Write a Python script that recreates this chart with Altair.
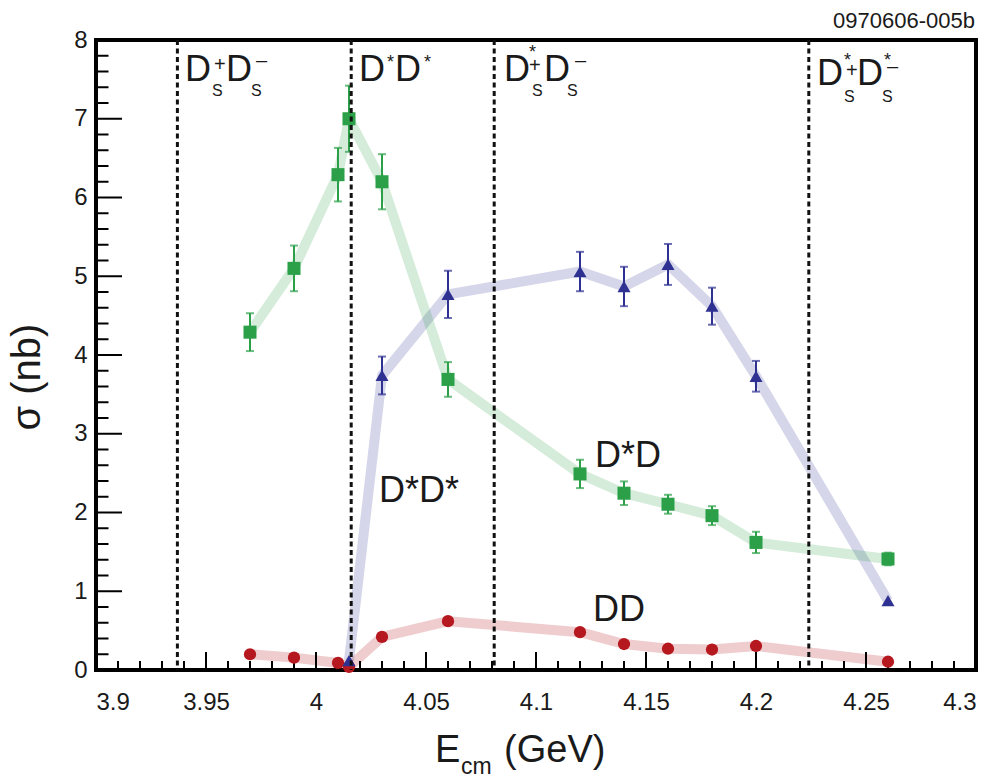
import altair as alt
import pandas as pd

FONT = "Liberation Sans"

# ---------------- data ----------------
energy = [3.97, 3.99, 4.01, 4.015, 4.03, 4.06, 4.12, 4.14, 4.16, 4.18, 4.20, 4.26]

# D*D (green squares)
dsd_val = [4.29, 5.10, 6.29, 7.00, 6.20, 3.69, 2.49, 2.245, 2.105, 1.96, 1.62, 1.41]
dsd_err = [0.24, 0.29, 0.34, 0.42, 0.35, 0.22, 0.18, 0.15, 0.12, 0.12, 0.135, 0.08]

# D*D* (blue triangles)
dsds_energy = [4.015, 4.03, 4.06, 4.12, 4.14, 4.16, 4.18, 4.20, 4.26]
dsds_val = [0.12, 3.74, 4.77, 5.06, 4.87, 5.15, 4.62, 3.73, 0.88]
dsds_err = [0.0, 0.24, 0.30, 0.25, 0.25, 0.26, 0.235, 0.195, 0.0]

# DD (red circles)
dd_val = [0.20, 0.157, 0.09, 0.04, 0.42, 0.62, 0.48, 0.33, 0.27, 0.26, 0.305, 0.105]

# thresholds (dashed lines)
thresholds = [3.937, 4.016, 4.081, 4.224]

# axis tick labels
x_labels = [3.9, 3.95, 4.0, 4.05, 4.1, 4.15, 4.2, 4.25, 4.3]
y_labels = [0, 1, 2, 3, 4, 5, 6, 7, 8]
x_minor = [round(3.9 + 0.01 * i, 2) for i in range(41) if i % 5 != 0]
y_minor = [round(0.2 * i, 1) for i in range(41) if i % 5 != 0]

# annotation pieces (text, x in GeV, y in nb, font size)
ann_text = ["D", "+", "S", "D", "\u2013", "S",
            "D", "*", "D", "*",
            "D", "*", "+", "S", "D", "\u2013", "S",
            "D", "*", "+", "S", "D", "*", "\u2013", "S",
            "D*D*", "D*D", "DD",
            "E", "cm", "(GeV)"]
ann_x = [3.9405, 3.9536, 3.9527, 3.9591, 3.9727, 3.9705,
         4.0195, 4.0323, 4.0359, 4.0491,
         4.0855, 4.0968, 4.0968, 4.0982, 4.1036, 4.1177, 4.1141,
         4.2277, 4.2400, 4.2409, 4.2400, 4.2459, 4.2582, 4.2595, 4.2573,
         4.0286, 4.1268, 4.1259,
         4.0541, 4.0659, 4.0855]
ann_y = [7.483, 7.606, 7.289, 7.483, 7.657, 7.289,
         7.483, 7.640, 7.483, 7.640,
         7.483, 7.770, 7.590, 7.289, 7.483, 7.657, 7.289,
         7.429, 7.675, 7.525, 7.217, 7.429, 7.675, 7.587, 7.217,
         2.137, 2.574, 0.626,
         -1.168, -1.321, -1.168]
ann_size = [36, 20, 16, 36, 20, 16,
            36, 18, 36, 18,
            36, 18, 20, 16, 36, 20, 16,
            36, 18, 20, 16, 36, 18, 20, 16,
            36, 36, 36,
            38, 23, 38]

ylabel_text = ["\u03c3 (nb)"]
ylabel_x = [3.8745]
ylabel_y = [3.72]

corner_text = ["0970606-005b"]
corner_x = [4.2995]
corner_y = [8.148]

# ---------------- tables ----------------
green = pd.DataFrame({"x": energy, "y": dsd_val, "e": dsd_err})
green["lo"] = green.y - green.e
green["hi"] = green.y + green.e
blue = pd.DataFrame({"x": dsds_energy, "y": dsds_val, "e": dsds_err})
blue["lo"] = blue.y - blue.e
blue["hi"] = blue.y + blue.e
blue_err = blue[blue.e > 0]
red = pd.DataFrame({"x": energy, "y": dd_val})
thr = pd.DataFrame({"x": thresholds})
xmaj = pd.DataFrame({"x": x_labels})
xmin = pd.DataFrame({"x": x_minor})
ymaj = pd.DataFrame({"y": y_labels})
ymin = pd.DataFrame({"y": y_minor})
ann = pd.DataFrame({"x": ann_x, "y": ann_y, "t": ann_text, "fs": ann_size})
ylab = pd.DataFrame({"x": ylabel_x, "y": ylabel_y, "t": ylabel_text})
corner = pd.DataFrame({"x": corner_x, "y": corner_y, "t": corner_text})

W, H = 880, 630

xs = alt.Scale(domain=[3.9, 4.3], nice=False, zero=False)
ys = alt.Scale(domain=[0, 8], nice=False, zero=False)
x_axis = alt.Axis(values=x_labels, format="~g", labelPadding=20, title=None)
y_axis = alt.Axis(values=y_labels, format="d", labelPadding=9, title=None)


def X(f="x"):
    return alt.X(f"{f}:Q", scale=xs, axis=x_axis)


def Y(f="y"):
    return alt.Y(f"{f}:Q", scale=ys, axis=y_axis)


GREEN, BLUE, RED = "#2ba048", "#2e3192", "#b5181f"

lines = [
    alt.Chart(red).mark_line(color=RED, opacity=0.22, strokeWidth=10, strokeJoin="round").encode(x=X(), y=Y()),
    alt.Chart(blue).mark_line(color=BLUE, opacity=0.2, strokeWidth=10, strokeJoin="round").encode(x=X(), y=Y()),
    alt.Chart(green).mark_line(color=GREEN, opacity=0.2, strokeWidth=10, strokeJoin="round").encode(x=X(), y=Y()),
]

ticks = [
    alt.Chart(xmaj).mark_rule(color="black", strokeWidth=2).encode(x=X(), y=alt.value(H), y2=alt.value(H - 18)),
    alt.Chart(xmin).mark_rule(color="black", strokeWidth=2).encode(x=X(), y=alt.value(H), y2=alt.value(H - 9)),
    alt.Chart(ymaj).mark_rule(color="black", strokeWidth=2).encode(y=Y(), x=alt.value(0), x2=alt.value(26)),
    alt.Chart(ymin).mark_rule(color="black", strokeWidth=2).encode(y=Y(), x=alt.value(0), x2=alt.value(12.5)),
]


def errbars(df, color):
    r = alt.Chart(df).mark_rule(color=color, strokeWidth=2).encode(x=X(), y=Y("lo"), y2="hi:Q")
    t1 = alt.Chart(df).mark_tick(color=color, orient="horizontal", size=8, thickness=2).encode(x=X(), y=Y("lo"))
    t2 = alt.Chart(df).mark_tick(color=color, orient="horizontal", size=8, thickness=2).encode(x=X(), y=Y("hi"))
    return [r, t1, t2]


points = [
    alt.Chart(red).mark_point(shape="circle", filled=True, size=150, color=RED, opacity=1).encode(x=X(), y=Y()),
    alt.Chart(blue).mark_point(shape="triangle-up", filled=True, size=170, color=BLUE, opacity=1).encode(x=X(), y=Y()),
    alt.Chart(green).mark_point(shape="square", filled=True, size=170, color=GREEN, opacity=1).encode(x=X(), y=Y()),
]

dashes = alt.Chart(thr).mark_rule(color="#111111", strokeWidth=3, strokeDash=[5, 3.5]).encode(
    x=X(), y=alt.value(0), y2=alt.value(H))

texts = [
    alt.Chart(ann).mark_text(align="left", baseline="alphabetic", font=FONT, color="#1a1a1a").encode(
        x=X(), y=Y(), text="t:N", size=alt.Size("fs:Q", scale=None)),
    alt.Chart(ylab).mark_text(align="center", baseline="alphabetic", angle=270, font=FONT, fontSize=40,
                              color="#1a1a1a").encode(x=X(), y=Y(), text="t:N"),
    alt.Chart(corner).mark_text(align="right", baseline="alphabetic", font=FONT, fontSize=22,
                                color="#1a1a1a").encode(x=X(), y=Y(), text="t:N"),
]

chart = alt.layer(
    *lines, *ticks, *errbars(green, GREEN), *errbars(blue_err, BLUE), *points, dashes, *texts
).properties(
    width=W, height=H,
    autosize=alt.AutoSizeParams(type="none"),
    padding={"left": 96, "top": 40, "right": 22, "bottom": 109},
    background="white",
).configure_view(
    stroke="black", strokeWidth=4
).configure_axis(
    grid=False, domain=False, ticks=False, tickSize=0,
    labelFont=FONT, labelFontSize=24, labelColor="#1a1a1a",
)

chart.save("out.html", embed_options={"renderer": "svg", "actions": False})
